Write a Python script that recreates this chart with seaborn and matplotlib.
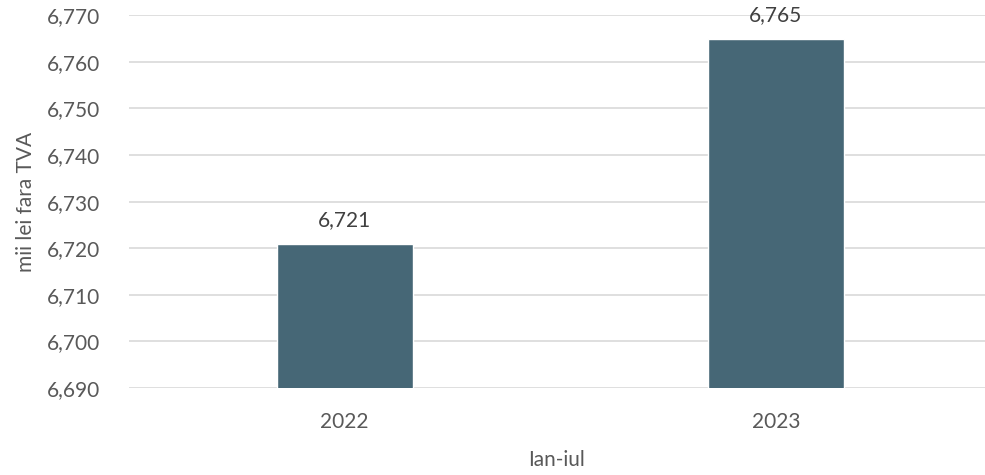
import pandas as pd
import seaborn as sns
import matplotlib.pyplot as plt
from matplotlib.ticker import FuncFormatter, MultipleLocator

# data
years = ['2022', '2023']
values = [6721, 6765]

df = pd.DataFrame({'An': years, 'Valoare': values})

sns.set_style('white')
plt.rcParams['font.family'] = ['Lato', 'DejaVu Sans']
text_col = '#595959'

fig = plt.figure(figsize=(9.85, 4.75), dpi=100)
ax = fig.add_axes([0.131, 0.183, 0.869, 0.785])

sns.barplot(data=df, x='An', y='Valoare', color='#466776', width=0.315,
            saturation=1, ax=ax, zorder=3)

ax.set_ylim(6690, 6770)
ax.set_xlim(-0.5, 1.485)
ax.yaxis.set_major_locator(MultipleLocator(10))
ax.yaxis.set_major_formatter(FuncFormatter(lambda v, p: f'{v:,.0f}'))
ax.grid(axis='y', color='#d9d9d9', linewidth=1.2, zorder=0)
ax.set_axisbelow(True)
for s in ax.spines.values():
    s.set_visible(False)

ax.tick_params(axis='both', length=0, labelsize=15, colors=text_col)
ax.tick_params(axis='x', pad=17)
ax.tick_params(axis='y', pad=21)

ax.set_xlabel('Ian-iul', fontsize=15, color=text_col, labelpad=13)
ax.set_ylabel('mii lei fara TVA', fontsize=15, color=text_col, labelpad=8)

for c in ax.containers:
    ax.bar_label(c, labels=[f'{v:,}' for v in values], padding=10,
                 fontsize=15, color='#404040')

plt.savefig('out.png', dpi=100)
